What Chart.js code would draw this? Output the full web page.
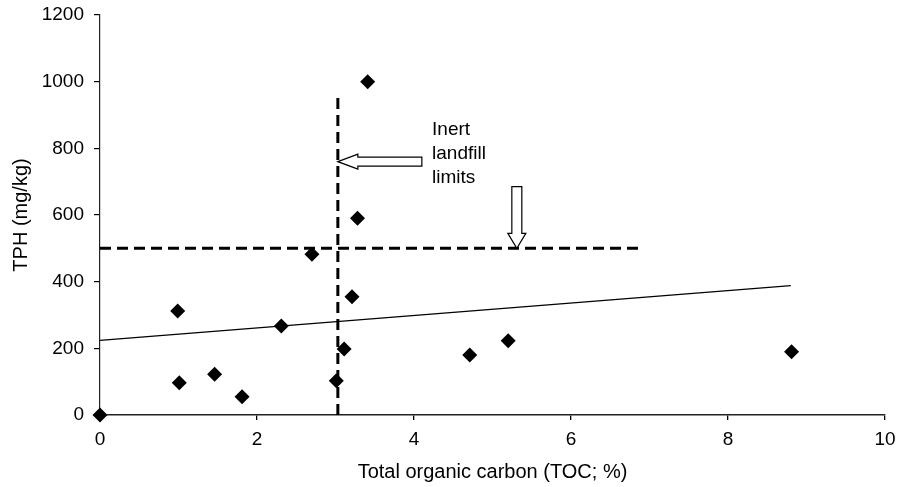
<!DOCTYPE html>
<html>
<head>
<meta charset="utf-8">
<script src="https://cdn.jsdelivr.net/npm/chart.js@4/dist/chart.umd.min.js"></script>
<style>
  html, body { margin: 0; padding: 0; background: #fff; }
  #wrap { width: 900px; height: 487px; }
</style>
</head>
<body>
<div id="wrap"><canvas id="c" width="900" height="487"></canvas></div>
<script>
// ---- data ----
const tocValues = [0, 0.99, 1.01, 1.46, 1.81, 2.31, 2.70, 3.01, 3.11, 3.21, 3.28, 3.41, 4.71, 5.20, 8.81];
const tphValues = [0, 312, 97, 122, 55, 267, 482, 103, 198, 355, 590, 1000, 180, 223, 190];
const trendX = [0, 8.8];
const trendY = [224, 388];
const limitTOCLineX = [3.03, 3.03];
const limitTOCLineY = [0, 955];
const limitTPHLineX = [0, 6.9];
const limitTPHLineY = [500, 500];
const leftArrowX = [4.1, 3.03];
const leftArrowY = [760, 760];
const downArrowX = [5.31, 5.31];
const downArrowY = [685, 500];
const noteLines = ['Inert', 'landfill', 'limits'];
const noteAnchor = [4.23, 840];
const xTitle = 'Total organic carbon (TOC; %)';
const yTitle = 'TPH (mg/kg)';

const pts = (xs, ys) => xs.map((x, i) => ({ x: x, y: ys[i] }));
const FONT = "'Liberation Sans', Arial, Helvetica, sans-serif";

const annotPlugin = {
  id: 'annot',
  afterDatasetsDraw(chart) {
    const ctx = chart.ctx, xs = chart.scales.x, ys = chart.scales.y;
    ctx.save();
    ctx.fillStyle = '#fff';
    ctx.strokeStyle = '#000';
    ctx.lineWidth = 1.2;
    ctx.lineJoin = 'miter';
    // left-pointing hollow arrow
    {
      const tx = xs.getPixelForValue(leftArrowX[1]), ty = ys.getPixelForValue(leftArrowY[1]);
      const sx = xs.getPixelForValue(leftArrowX[0]);
      const bh = 4.5, hh = 7.5, hl = 20;
      ctx.beginPath();
      ctx.moveTo(tx, ty);
      ctx.lineTo(tx + hl, ty - hh);
      ctx.lineTo(tx + hl, ty - bh);
      ctx.lineTo(sx, ty - bh);
      ctx.lineTo(sx, ty + bh);
      ctx.lineTo(tx + hl, ty + bh);
      ctx.lineTo(tx + hl, ty + hh);
      ctx.closePath();
      ctx.fill(); ctx.stroke();
    }
    // down-pointing hollow arrow
    {
      const cx = xs.getPixelForValue(downArrowX[0]);
      const sy = ys.getPixelForValue(downArrowY[0]), ty = ys.getPixelForValue(downArrowY[1]);
      const bw = 5, hw = 9, hl = 15;
      ctx.beginPath();
      ctx.moveTo(cx, ty);
      ctx.lineTo(cx - hw, ty - hl);
      ctx.lineTo(cx - bw, ty - hl);
      ctx.lineTo(cx - bw, sy);
      ctx.lineTo(cx + bw, sy);
      ctx.lineTo(cx + bw, ty - hl);
      ctx.lineTo(cx + hw, ty - hl);
      ctx.closePath();
      ctx.fill(); ctx.stroke();
    }
    // note text
    ctx.fillStyle = '#000';
    ctx.font = '19px ' + FONT;
    ctx.textAlign = 'left';
    ctx.textBaseline = 'alphabetic';
    const nx = xs.getPixelForValue(noteAnchor[0]), ny = ys.getPixelForValue(noteAnchor[1]);
    noteLines.forEach((t, i) => ctx.fillText(t, nx, ny + i * 24));
    ctx.restore();
  }
};

new Chart(document.getElementById('c'), {
  type: 'scatter',
  data: {
    datasets: [
      {
        label: 'TPH',
        data: pts(tocValues, tphValues),
        pointStyle: 'rectRot',
        pointRadius: 7.5,
        pointBackgroundColor: '#000',
        pointBorderColor: '#000',
        pointBorderWidth: 0,
        showLine: false,
        clip: false,
        order: 0
      },
      {
        label: 'trend',
        data: pts(trendX, trendY),
        showLine: true,
        borderColor: '#000',
        borderWidth: 1.3,
        pointRadius: 0,
        order: 3
      },
      {
        label: 'TOC limit',
        data: pts(limitTOCLineX, limitTOCLineY),
        showLine: true,
        borderColor: '#000',
        borderWidth: 3,
        borderDash: [11, 6],
        pointRadius: 0,
        order: 2
      },
      {
        label: 'TPH limit',
        data: pts(limitTPHLineX, limitTPHLineY),
        showLine: true,
        borderColor: '#000',
        borderWidth: 3,
        borderDash: [11, 6],
        pointRadius: 0,
        order: 2
      }
    ]
  },
  options: {
    responsive: false,
    animation: false,
    devicePixelRatio: 1,
    layout: { padding: { left: 0, right: 15, top: 15, bottom: 0 } },
    plugins: { legend: { display: false }, tooltip: { enabled: false } },
    scales: {
      x: {
        type: 'linear',
        min: 0, max: 10,
        ticks: { stepSize: 2, color: '#000', font: { family: FONT, size: 19 }, padding: 8, maxRotation: 0,
                 callback: v => String(v) },
        grid: { drawOnChartArea: false, drawTicks: true, tickLength: 5, color: '#000', lineWidth: 1.3 },
        border: { display: true, color: '#222', width: 1.6 },
        title: { display: true, text: xTitle, color: '#000', font: { family: FONT, size: 20 }, padding: { top: 0, bottom: 3 } },
        afterFit(s) { s.height = 72; s.paddingLeft = 0; s.paddingRight = 0; }
      },
      y: {
        type: 'linear',
        min: 0, max: 1200,
        ticks: { stepSize: 200, color: '#000', font: { family: FONT, size: 19 }, padding: 10,
                 callback: v => String(v) },
        grid: { drawOnChartArea: false, drawTicks: true, tickLength: 6, color: '#000', lineWidth: 1.2 },
        border: { display: true, color: '#222', width: 1.2 },
        title: { display: true, text: yTitle, color: '#000', font: { family: FONT, size: 20 }, padding: { top: 9, bottom: 0 } },
        afterFit(s) { s.width = 100; s.paddingTop = 0; s.paddingBottom = 0; }
      }
    }
  },
  plugins: [annotPlugin]
});
</script>
</body>
</html>
